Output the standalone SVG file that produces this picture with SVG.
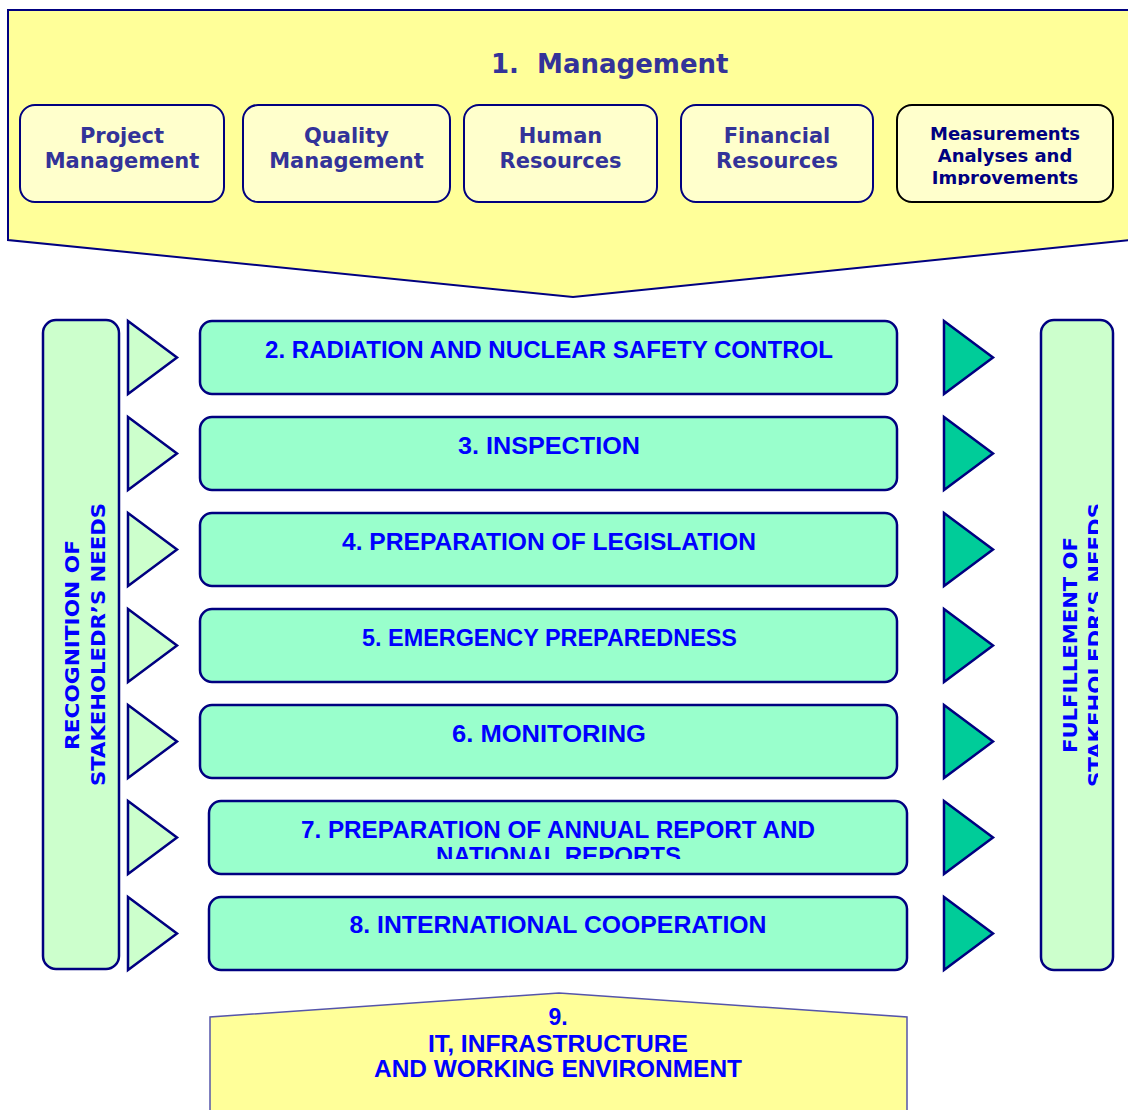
<svg xmlns="http://www.w3.org/2000/svg" width="1128" height="1110" viewBox="0 0 1128 1110">
<defs>
<style>
.big{fill:#FFFF99;stroke:#000080;stroke-width:2}
.sub{fill:#FFFFCC;stroke:#000080;stroke-width:2}
.subt{font-family:"DejaVu Sans",Verdana,sans-serif;font-weight:bold;font-size:21px;fill:#333399;text-anchor:middle}
.row{fill:#99FFCC;stroke:#000080;stroke-width:2.5}
.rowt{font-family:"Liberation Sans",Arial,sans-serif;font-weight:bold;font-size:23px;fill:#0000FF;text-anchor:middle}
.side{fill:#CCFFCC;stroke:#000080;stroke-width:2.5}
.sidet{font-family:"DejaVu Sans",Verdana,sans-serif;font-weight:bold;font-size:20px;fill:#0000FF;text-anchor:middle}
.triL{fill:#CCFFCC;stroke:#000080;stroke-width:2.5;stroke-linejoin:miter}
.triR{fill:#00CC99;stroke:#000080;stroke-width:2.5;stroke-linejoin:miter}
</style>
<clipPath id="clipImp"><rect x="897" y="105" width="216" height="80"/></clipPath>
<clipPath id="clipR7"><rect x="209" y="801" width="698" height="58"/></clipPath>
<clipPath id="clipRight"><rect x="1041" y="320" width="57" height="650"/></clipPath>
</defs>
<rect width="1128" height="1110" fill="#FFFFFF"/>

<g id="management">
<polygon class="big" points="8,10 1140,10 1140,239 573,297 8,240"/>
<text x="491" y="73" xml:space="preserve" style="font-family:'DejaVu Sans',Verdana,sans-serif;font-weight:bold;font-size:26px;fill:#333399">1.  Management</text>
</g>

<g id="project-management">
<rect class="sub" x="20" y="105" width="204" height="97" rx="15"/>
<text class="subt" x="122" y="143">Project</text>
<text class="subt" x="122" y="168">Management</text>
</g>
<g id="quality-management">
<rect class="sub" x="243" y="105" width="207" height="97" rx="15"/>
<text class="subt" x="346.5" y="143">Quality</text>
<text class="subt" x="346.5" y="168">Management</text>
</g>
<g id="human-resources">
<rect class="sub" x="464" y="105" width="193" height="97" rx="15"/>
<text class="subt" x="560.5" y="143">Human</text>
<text class="subt" x="560.5" y="168">Resources</text>
</g>
<g id="financial-resources">
<rect class="sub" x="681" y="105" width="192" height="97" rx="15"/>
<text class="subt" x="777" y="143">Financial</text>
<text class="subt" x="777" y="168">Resources</text>
</g>
<g id="measurements">
<rect x="897" y="105" width="216" height="97" rx="15" fill="#FFFFCC" stroke="#000000" stroke-width="2"/>
<g clip-path="url(#clipImp)" style="font-family:'DejaVu Sans',Verdana,sans-serif;font-weight:bold;font-size:18px;fill:#000080;text-anchor:middle">
<text x="1005" y="140">Measurements</text>
<text x="1005" y="162">Analyses and</text>
<text x="1005" y="184">Improvements</text>
</g>
</g>

<g id="recognition">
<rect class="side" x="43" y="320" width="76" height="649" rx="13"/>
<text class="sidet" transform="translate(79,645) rotate(-90)" textLength="210" lengthAdjust="spacingAndGlyphs">RECOGNITION OF</text>
<text class="sidet" transform="translate(105,644.5) rotate(-90)" textLength="283" lengthAdjust="spacingAndGlyphs">STAKEHOLEDR’S NEEDS</text>
</g>

<g id="fulfillment">
<rect class="side" x="1041" y="320" width="72" height="650" rx="13"/>
<text class="sidet" transform="translate(1077,645) rotate(-90)" textLength="216" lengthAdjust="spacingAndGlyphs">FULFILLEMENT OF</text>
<g clip-path="url(#clipRight)">
<text class="sidet" transform="translate(1102,645) rotate(-90)" textLength="284" lengthAdjust="spacingAndGlyphs">STAKEHOLEDR’S NEEDS</text>
</g>
</g>

<g id="row2">
<rect class="row" x="200" y="321" width="697" height="73" rx="12"/>
<text class="rowt" x="549" y="358" textLength="568" lengthAdjust="spacingAndGlyphs">2. RADIATION AND NUCLEAR SAFETY CONTROL</text>
</g>
<g id="row3">
<rect class="row" x="200" y="417" width="697" height="73" rx="12"/>
<text class="rowt" x="549" y="454" textLength="182" lengthAdjust="spacingAndGlyphs">3. INSPECTION</text>
</g>
<g id="row4">
<rect class="row" x="200" y="513" width="697" height="73" rx="12"/>
<text class="rowt" x="549" y="550" textLength="414" lengthAdjust="spacingAndGlyphs">4. PREPARATION OF LEGISLATION</text>
</g>
<g id="row5">
<rect class="row" x="200" y="609" width="697" height="73" rx="12"/>
<text class="rowt" x="549.5" y="646" textLength="375" lengthAdjust="spacingAndGlyphs">5. EMERGENCY PREPAREDNESS</text>
</g>
<g id="row6">
<rect class="row" x="200" y="705" width="697" height="73" rx="12"/>
<text class="rowt" x="549" y="742" textLength="194" lengthAdjust="spacingAndGlyphs">6. MONITORING</text>
</g>
<g id="row7">
<rect class="row" x="209" y="801" width="698" height="73" rx="12"/>
<g clip-path="url(#clipR7)">
<text class="rowt" x="558" y="838" textLength="514" lengthAdjust="spacingAndGlyphs">7. PREPARATION OF ANNUAL REPORT AND</text>
<text class="rowt" x="558.5" y="864" textLength="245" lengthAdjust="spacingAndGlyphs">NATIONAL REPORTS</text>
</g>
</g>
<g id="row8">
<rect class="row" x="209" y="897" width="698" height="73" rx="12"/>
<text class="rowt" x="558" y="933" textLength="417" lengthAdjust="spacingAndGlyphs">8. INTERNATIONAL COOPERATION</text>
</g>

<g id="infrastructure">
<polygon points="210,1120 210,1017 559,993 907,1017 907,1120" fill="#FFFF99" stroke="#5555AA" stroke-width="1.5"/>
<text class="rowt" x="558" y="1025">9.</text>
<text class="rowt" x="558" y="1052" textLength="260" lengthAdjust="spacingAndGlyphs">IT, INFRASTRUCTURE</text>
<text class="rowt" x="558" y="1077" textLength="368" lengthAdjust="spacingAndGlyphs">AND WORKING ENVIRONMENT</text>
</g>

<g id="connectors">
<polygon class="triL" points="128,321 177,357.5 128,394"/>
<polygon class="triL" points="128,417 177,453.5 128,490"/>
<polygon class="triL" points="128,513 177,549.5 128,586"/>
<polygon class="triL" points="128,609 177,645.5 128,682"/>
<polygon class="triL" points="128,705 177,741.5 128,778"/>
<polygon class="triL" points="128,801 177,837.5 128,874"/>
<polygon class="triL" points="128,897 177,933.5 128,970"/>
<polygon class="triR" points="944,321 993,357.5 944,394"/>
<polygon class="triR" points="944,417 993,453.5 944,490"/>
<polygon class="triR" points="944,513 993,549.5 944,586"/>
<polygon class="triR" points="944,609 993,645.5 944,682"/>
<polygon class="triR" points="944,705 993,741.5 944,778"/>
<polygon class="triR" points="944,801 993,837.5 944,874"/>
<polygon class="triR" points="944,897 993,933.5 944,970"/>
</g>
</svg>
